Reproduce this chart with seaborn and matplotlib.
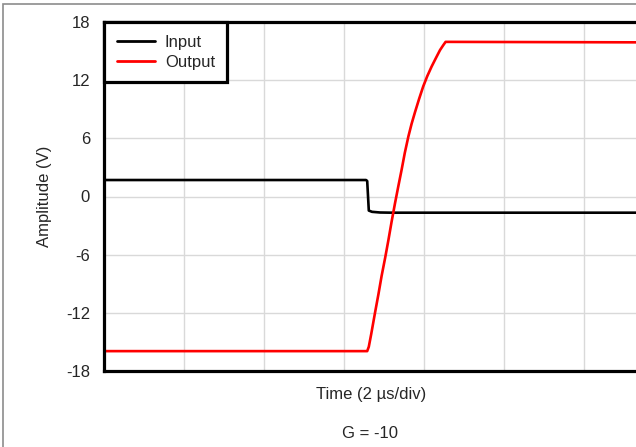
import matplotlib
matplotlib.use("Agg")
import matplotlib.pyplot as plt
import seaborn as sns
import pandas as pd
from matplotlib.patches import Rectangle

# Time in microseconds (2 us per division), amplitude in volts
input_time = [0.0, 6.55, 6.58, 6.62, 6.70, 6.90, 7.20, 13.5]
input_volts = [1.70, 1.70, 1.60, -1.45, -1.58, -1.65, -1.67, -1.67]

output_time = [0.0, 6.58, 6.62, 6.68, 6.775, 6.86, 6.94, 7.03, 7.11, 7.19,
               7.275, 7.36, 7.44, 7.52, 7.61, 7.69, 7.775, 7.88, 7.98,
               8.08, 8.19, 8.30, 8.40, 8.48, 8.54, 8.60, 13.5]
output_volts = [-15.95, -15.95, -15.5, -14.2, -12.0, -10.1, -8.2, -6.3, -4.5,
                -2.6, -0.7, 1.1, 2.75, 4.5, 6.2, 7.5, 8.7, 10.1, 11.35,
                12.4, 13.4, 14.3, 15.1, 15.6, 15.95, 15.95, 15.9]

y_ticks = [18, 12, 6, 0, -6, -12, -18]
x_grid = [2, 4, 6, 8, 10, 12]

df = pd.concat([
    pd.DataFrame({"Time": input_time, "Amplitude": input_volts, "Signal": "Input"}),
    pd.DataFrame({"Time": output_time, "Amplitude": output_volts, "Signal": "Output"}),
], ignore_index=True)

sns.set_style("white")
plt.rcParams["font.family"] = ["Liberation Sans", "DejaVu Sans"]
FS = 12
plt.rcParams["font.size"] = FS

W, H = 636, 447
fig = plt.figure(figsize=(W / 100, H / 100), dpi=100)
fig.patch.set_facecolor("white")

# figure border (gray, partially cropped at right/bottom)
fig.add_artist(Rectangle((3 / W, -0.05), 1.2, (H - 4) / H + 0.05,
                         transform=fig.transFigure, fill=False,
                         edgecolor="#8c8c8c", linewidth=1.2))

left, right, top, bottom = 104, 638, 22, 371
ax = fig.add_axes([left / W, (H - bottom) / H, (right - left) / W, (bottom - top) / H])

sns.lineplot(data=df, x="Time", y="Amplitude", hue="Signal",
             palette={"Input": "black", "Output": "red"},
             linewidth=1.9, ax=ax, sort=False, estimator=None)

ax.set_xlim(0, (right - left) / 40)
ax.set_ylim(-18, 18)
ax.set_yticks(y_ticks)
ax.set_yticklabels([str(v) for v in y_ticks])
ax.set_xticks(x_grid)
ax.set_xticklabels([])
ax.tick_params(axis="x", length=0)
ax.tick_params(axis="y", length=0, pad=10, labelsize=FS)
ax.grid(True, color="#d9d9d9", linewidth=1.0)
ax.set_axisbelow(True)
for s in ax.spines.values():
    s.set_color("black")
    s.set_linewidth(2.3)

ax.set_xlabel("Time (2 µs/div)", fontsize=FS, labelpad=8)
ax.set_ylabel("Amplitude (V)", fontsize=FS, labelpad=10)

leg = ax.legend(loc="upper left", borderaxespad=0, fancybox=False,
                frameon=True, edgecolor="black", framealpha=1,
                handlelength=2.3, handletextpad=0.6, labelspacing=0.3,
                borderpad=0.75, fontsize=FS)
leg.get_frame().set_linewidth(2.3)
for h in leg.get_lines():
    h.set_linewidth(2.0)

fig.text((104 + 636) / 2 / W, 1 - 434 / H, "G = -10", ha="center", va="center",
         fontsize=FS)

fig.savefig("out.png", dpi=100)
